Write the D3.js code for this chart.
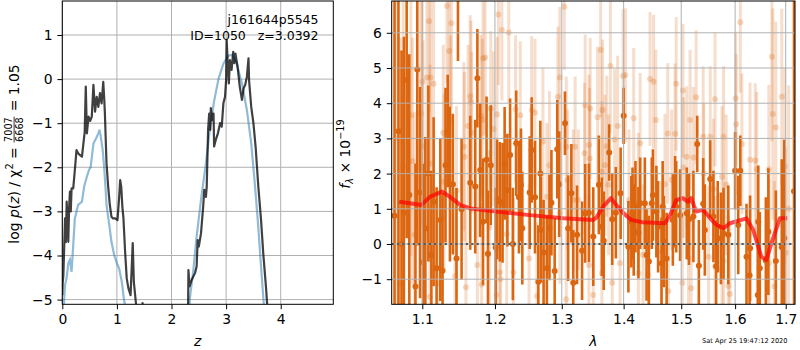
<!DOCTYPE html>
<html>
<head>
<meta charset="utf-8">
<script src="https://cdn.jsdelivr.net/npm/d3@7"></script>
<style>
  html, body { margin: 0; padding: 0; background: #fff; }
  svg { display: block; font-family: "DejaVu Sans", sans-serif; }
</style>
</head>
<body>
<svg id="fig" width="800" height="350"></svg>
<script>
// ---- redshift probability panel ----
const zBlack = [0.0, 0.007, 0.02, 0.03, 0.05, 0.065, 0.08, 0.095, 0.11, 0.125, 0.14, 0.155, 0.17, 0.2, 0.23, 0.26, 0.29, 0.32, 0.36, 0.40, 0.41, 0.43, 0.45, 0.48, 0.51, 0.54, 0.57, 0.60, 0.63, 0.66, 0.69, 0.72, 0.75, 0.77, 0.78, 0.81, 0.84, 0.87, 0.90, 0.93, 0.97, 1.01, 1.04, 1.06, 1.08, 1.10, 1.12, 1.15, 1.18, 1.21, 1.25, 1.29, 1.31, 1.35, 1.38, 1.42, 1.45, 1.47, 1.49, 1.55, 1.8, 2.1, 2.29,
  2.31, 2.33, 2.37, 2.43, 2.46, 2.48, 2.50, 2.54, 2.58, 2.60, 2.63, 2.645, 2.67, 2.69, 2.71, 2.72, 2.75, 2.77, 2.78, 2.81, 2.85, 2.89, 2.92, 2.95, 2.98, 3.00, 3.01, 3.03, 3.05, 3.07, 3.10, 3.13, 3.15, 3.17, 3.21, 3.25, 3.29, 3.32, 3.35, 3.38, 3.41, 3.42, 3.46, 3.50, 3.54, 3.59, 3.64, 3.68, 3.73, 3.75, 3.80, 4.2, 4.963];
const logpBlack = [-4.9, -4.63, -4.44, -4.0, -3.16, -3.7, -2.78, -3.2, -3.69, -2.9, -2.55, -3.0, -2.48, -2.48, -2.06, -1.61, -1.68, -1.72, -1.76, -1.31, -1.2, -0.17, -1.23, -0.85, -0.95, -0.85, -0.13, -0.74, -0.4, -0.63, -0.32, -0.55, -0.06, -0.5, -0.78, -1.91, -2.44, -2.85, -3.12, -3.16, -3.16, -3.2, -2.7, -2.29, -2.45, -2.9, -3.16, -3.91, -4.52, -4.74, -4.9, -3.72, -4.6, -5.1, -5.6, -6.5, -5.5, -5.08, -5.6, -7.0, -9.0, -9.0, -7.0,
  -4.33, -4.7, -4.55, -4.4, -4.25, -3.65, -3.8, -3.5, -2.89, -2.51, -2.67, -2.44, -1.15, -0.78, -1.15, -0.66, -0.93, -0.78, -1.53, -1.38, -1.23, -1.0, -1.08, -0.55, -0.4, -0.02, 0.89, 0.36, -0.1, 0.43, 0.21, 0.62, 0.36, 0.58, 0.28, -0.17, -0.47, -0.21, -0.13, 0.05, 0.47, -0.02, -0.63, -1.0, -1.53, -2.44, -3.2, -3.95, -4.71, -5.08, -6.5, -10.0, -12.0];

const zBlue = [0.0, 0.03, 0.05, 0.08, 0.11, 0.14, 0.17, 0.20, 0.23, 0.29, 0.36, 0.40, 0.45, 0.49, 0.52, 0.57, 0.62, 0.66, 0.68, 0.70, 0.74, 0.77, 0.79, 0.81, 0.86, 0.90, 0.95, 1.00, 1.04, 1.09, 1.13, 1.15, 1.2, 1.5,
  2.2, 2.34, 2.40, 2.46, 2.54, 2.63, 2.70, 2.78, 2.86, 2.95, 3.04, 3.11, 3.19, 3.29, 3.38, 3.46, 3.52, 3.58, 3.64, 3.68, 3.75, 4.0, 4.963];
const logpBlue = [-6.0, -5.1, -4.67, -4.5, -4.18, -4.1, -4.37, -3.76, -3.16, -2.85, -2.78, -2.44, -2.21, -2.06, -1.99, -1.46, -1.34, -1.23, -1.15, -1.27, -1.61, -2.06, -2.44, -2.85, -3.31, -3.69, -3.99, -4.18, -4.29, -4.6, -5.01, -5.12, -5.8, -8.0,
  -7.5, -4.93, -4.33, -3.57, -2.74, -1.91, -1.15, -0.5, 0.0, 0.35, 0.53, 0.55, 0.36, -0.1, -0.7, -1.46, -2.29, -3.2, -4.25, -4.93, -6.2, -9.5, -16.0];

const zTicks = [0, 1, 2, 3, 4];
const logpTicks = [-5, -4, -3, -2, -1, 0, 1];

// ---- spectrum panel ----
// well-weighted points
const lamDark = [1.064, 1.069, 1.073, 1.076, 1.0796, 1.083, 1.091, 1.0934, 1.097, 1.101, 1.104, 1.108, 1.112, 1.115, 1.119, 1.124, 1.127, 1.131, 1.134, 1.137, 1.141, 1.146, 1.148, 1.153, 1.165, 1.172, 1.175, 1.179, 1.183, 1.188, 1.190, 1.194, 1.201, 1.203, 1.207, 1.211, 1.214, 1.218, 1.222, 1.226, 1.231, 1.235, 1.238, 1.240, 1.251, 1.254, 1.259, 1.264, 1.267, 1.268, 1.272, 1.277, 1.281, 1.284, 1.289, 1.293, 1.296, 1.305, 1.310, 1.315, 1.318, 1.324, 1.332, 1.337, 1.343, 1.350, 1.359, 1.364, 1.367, 1.376, 1.381, 1.387, 1.395, 1.400, 1.408, 1.413, 1.415, 1.417, 1.420, 1.425, 1.428, 1.436, 1.439, 1.443, 1.448, 1.450, 1.456, 1.459, 1.465, 1.467, 1.469, 1.474, 1.485, 1.489, 1.491, 1.498, 1.510, 1.514, 1.522, 1.529, 1.532, 1.540, 1.543, 1.553, 1.559, 1.564, 1.567, 1.573, 1.578, 1.587, 1.600, 1.606, 1.610, 1.622, 1.628, 1.629, 1.644, 1.645, 1.648, 1.660, 1.665, 1.680, 1.692, 1.697, 1.717];
const fluxDark = [0.8, 3.2, 0.0, 0.89, 4.66, 1.39, -1.21, 4.96, 1.46, -0.52, 0.44, 2.0, -0.31, 1.2, -0.69, 0.68, -0.76, 2.24, 3.21, 1.7, 1.7, -0.41, 7.2, 0.99, 1.74, 1.63, 4.71, 2.1, 0.63, 2.39, -0.28, 2.24, -0.1, 1.27, 1.2, 1.17, 2.29, 1.53, 2.53, 0.0, 2.86, 1.33, 1.68, 0.45, 1.46, 2.67, 1.33, -1.07, 2.0, 0.4, -0.24, -0.69, 0.47, 1.17, -0.77, 2.69, 1.7, 3.43, 0.45, 1.44, -1.1, 0.26, -0.19, 0.87, 0.89, 0.21, 1.68, 0.49, 0.09, 2.6, 0.7, 0.89, 1.44, 3.64, -0.08, 0.63, 0.87, 0.4, 1.06, 0.32, 1.16, 1.16, -0.31, -0.5, 1.16, 1.39, 0.92, 0.49, -0.55, 1.06, 0.07, -0.41, 0.68, 1.2, 1.06, 0.82, 0.87, 0.7, 0.78, 2.84, -0.62, 1.14, 0.4, 1.85, 0.78, -0.63, 0.49, 0.16, 0.3, 0.26, 2.08, 0.54, 2.08, -0.36, -0.89, -0.12, -1.45, 0.63, -0.69, -0.47, 0.35, -0.48, -0.09, 0.16, 1.5];
const errDark = [8.0, 7.0, 5.5, 5.0, 4.5, 4.0, 3.5, 5.0, 3.0, 2.8, 2.6, 2.5, 2.4, 2.4, 2.3, 2.3, 2.2, 2.2, 1.6, 2.2, 2.0, 2.0, 2.0, 2.0, 1.9, 1.9, 1.4, 1.9, 1.8, 1.8, 1.8, 1.7, 1.7, 1.7, 1.7, 1.7, 1.6, 1.6, 1.6, 1.6, 1.5, 1.6, 1.6, 1.6, 1.6, 1.5, 1.6, 1.6, 1.5, 1.5, 1.5, 1.5, 1.5, 1.5, 1.5, 1.4, 1.5, 0.9, 1.5, 1.4, 1.5, 1.4, 1.4, 1.4, 1.4, 1.4, 1.4, 1.4, 1.4, 0.8, 1.3, 1.3, 1.3, 0.8, 1.3, 1.3, 1.3, 1.3, 1.3, 1.3, 1.3, 1.3, 1.3, 1.3, 1.3, 1.3, 1.3, 1.3, 1.3, 1.3, 1.3, 1.3, 1.3, 1.3, 1.3, 1.3, 1.3, 1.3, 1.3, 0.8, 1.3, 1.3, 1.3, 1.1, 1.3, 1.3, 1.3, 1.3, 1.3, 1.4, 1.1, 1.4, 1.0, 1.5, 1.5, 1.5, 1.6, 1.6, 1.6, 1.8, 1.8, 2.0, 2.5, 2.8, 12.0];

// down-weighted points
const lamLight = [1.066, 1.071, 1.075, 1.085, 1.087, 1.090, 1.098, 1.100, 1.101, 1.106, 1.109, 1.110, 1.110, 1.111, 1.115, 1.121, 1.128, 1.129, 1.133, 1.136, 1.138, 1.139, 1.144, 1.146, 1.156, 1.157, 1.159, 1.162, 1.165, 1.166, 1.167, 1.175, 1.180, 1.181, 1.182, 1.183, 1.186, 1.192, 1.194, 1.198, 1.202, 1.203, 1.205, 1.207, 1.208, 1.210, 1.217, 1.220, 1.227, 1.230, 1.237, 1.250, 1.254, 1.259, 1.262, 1.271, 1.277, 1.281, 1.294, 1.297, 1.297, 1.304, 1.307, 1.307, 1.309, 1.318, 1.321, 1.326, 1.336, 1.337, 1.343, 1.343, 1.344, 1.345, 1.350, 1.357, 1.362, 1.364, 1.364, 1.365, 1.369, 1.372, 1.375, 1.378, 1.381, 1.385, 1.390, 1.394, 1.399, 1.403, 1.409, 1.417, 1.425, 1.425, 1.428, 1.433, 1.442, 1.445, 1.451, 1.455, 1.465, 1.471, 1.476, 1.477, 1.483, 1.489, 1.491, 1.502, 1.503, 1.504, 1.510, 1.513, 1.516, 1.518, 1.522, 1.527, 1.540, 1.541, 1.550, 1.553, 1.559, 1.562, 1.562, 1.575, 1.575, 1.578, 1.578, 1.583, 1.587, 1.590, 1.601, 1.602, 1.610, 1.613, 1.629, 1.639, 1.642, 1.666, 1.666, 1.672, 1.674, 1.677, 1.680, 1.692, 1.698, 1.700, 1.706];
const fluxLight = [3.0, -1.14, 2.2, 3.66, 2.36, 0.26, 3.71, 4.61, 2.78, 4.73, 6.33, 2.29, -1.5, 4.73, 4.55, -1.12, 3.16, 1.77, 6.76, 5.48, 3.52, 6.27, -0.91, 1.51, 2.76, 2.48, -1.23, 3.35, 4.2, 4.04, 3.16, -0.6, 3.64, -1.15, 3.52, 5.27, 5.3, 0.47, 3.85, 3.27, -1.45, 3.68, 6.52, -0.81, -1.0, 6.08, 0.28, 6.01, -0.81, 3.83, 3.66, -0.41, 3.81, 3.73, -1.48, 2.91, 1.34, 2.24, 4.18, 4.73, 0.87, 6.74, 2.76, -1.57, 1.82, 1.25, 2.76, 1.25, 2.58, 3.95, 2.81, -0.6, 2.43, 3.85, -1.45, 3.6, 5.51, 2.05, -0.83, 3.81, 2.24, 2.78, 1.68, 5.06, -1.1, 2.97, 3.35, -0.55, 4.77, 4.8, 1.25, 3.57, 1.16, -0.83, 2.86, -0.31, -0.88, 4.69, 4.61, 3.52, -0.22, 1.7, 3.14, -1.34, 1.82, 3.13, 4.55, -1.1, 4.36, 2.17, 2.48, -0.39, 3.52, -1.26, 2.46, 4.17, 3.05, 2.0, -0.36, 3.05, 1.56, 4.11, -0.64, 1.91, -0.72, 3.05, -0.48, 1.68, -1.19, -1.42, 4.14, 3.4, 6.3, 2.84, 2.39, 2.37, 2.12, 2.12, -0.55, 5.32, 3.69, -1.21, 3.31, 4.18, 2.2, -0.25, 1.0];
const errLight = [8.0, 7.0, 6.0, 4.0, 3.5, 3.5, 3.2, 3.0, 3.0, 2.8, 2.6, 2.8, 2.6, 2.6, 2.6, 2.6, 2.5, 2.5, 2.2, 2.4, 2.4, 2.4, 2.4, 2.4, 2.4, 2.4, 2.3, 2.3, 2.3, 2.3, 2.3, 2.3, 2.3, 2.3, 2.3, 2.2, 2.2, 2.2, 2.2, 2.2, 2.2, 2.2, 2.0, 2.2, 2.2, 2.0, 2.2, 2.0, 2.1, 2.1, 2.1, 2.1, 2.1, 2.1, 2.1, 2.1, 2.1, 2.1, 2.0, 2.0, 2.0, 1.8, 2.0, 2.0, 2.0, 2.0, 2.0, 2.0, 2.0, 2.0, 2.0, 2.0, 2.0, 2.0, 2.0, 2.0, 1.9, 2.0, 2.0, 2.0, 2.0, 2.0, 2.0, 1.9, 2.0, 2.0, 2.0, 2.0, 1.9, 1.9, 2.0, 2.0, 2.0, 2.0, 2.0, 2.0, 2.0, 1.9, 1.9, 2.0, 2.0, 2.0, 2.0, 2.0, 2.0, 2.0, 1.9, 2.0, 1.9, 2.0, 2.0, 2.0, 2.0, 2.0, 2.0, 1.9, 2.0, 2.0, 2.0, 2.0, 2.0, 1.9, 2.0, 2.0, 2.0, 2.0, 2.0, 2.0, 2.0, 2.0, 1.9, 2.0, 2.0, 2.0, 2.2, 2.2, 2.2, 2.4, 2.4, 2.4, 3.0, 3.0, 3.0, 2.5, 2.8, 3.0, 3.5, 8.0];

// best-fit template
const lamModel = [1.070, 1.099, 1.110, 1.126, 1.137, 1.151, 1.165, 1.202, 1.251, 1.302, 1.350, 1.355, 1.366, 1.379, 1.390, 1.400, 1.413, 1.432, 1.471, 1.480, 1.491, 1.503, 1.512, 1.518, 1.527, 1.540, 1.553, 1.565, 1.578, 1.590, 1.622, 1.635, 1.651, 1.661, 1.670, 1.688, 1.703];
const fluxModel = [1.2, 1.11, 1.34, 1.49, 1.34, 1.11, 1.01, 0.92, 0.82, 0.73, 0.68, 0.75, 1.06, 1.3, 1.06, 0.87, 0.68, 0.62, 0.59, 0.82, 1.25, 1.3, 1.2, 1.3, 0.92, 0.97, 0.73, 0.54, 0.45, 0.59, 0.73, 0.4, -0.36, -0.45, -0.03, 0.73, 0.73];

const lamTicks = [1.1, 1.2, 1.3, 1.4, 1.5, 1.6, 1.7];
const fluxTicks = [-1, 0, 1, 2, 3, 4, 5, 6];

const objName = "j161644p5545";
const objInfo = "ID=1050   z=3.0392";
const stamp = "Sat Apr 25 19:47:12 2020";

// ---- layout ----
const svg = d3.select("#fig");
const FS = 13.9;
const gridColor = "#b0b0b0";
const orange = "#dc6610";

const L = { x0: 62.3, x1: 333.3, y0: 1, y1: 304.3 };
const R = { x0: 391.7, x1: 795, y0: 1, y1: 304.3 };

const xz = d3.scaleLinear().domain([0, 4.963]).range([L.x0, L.x1]);
const yp = d3.scaleLinear().domain([-5.107, 1.771]).range([L.y1, L.y0]);
const xl = d3.scaleLog().domain([1.0604, 1.719]).range([R.x0, R.x1]);
const yf = d3.scaleLinear().domain([-1.713, 6.903]).range([R.y1, R.y0]);

const defs = svg.append("defs");
defs.append("clipPath").attr("id", "clipL").append("rect")
  .attr("x", L.x0).attr("y", L.y0).attr("width", L.x1 - L.x0).attr("height", L.y1 - L.y0);
defs.append("clipPath").attr("id", "clipR").append("rect")
  .attr("x", R.x0).attr("y", R.y0).attr("width", R.x1 - R.x0).attr("height", R.y1 - R.y0);

function grid(box, xs, ys, xt, yt) {
  const g = svg.append("g").attr("stroke", gridColor).attr("stroke-width", 1);
  xt.forEach(v => g.append("line").attr("x1", xs(v)).attr("x2", xs(v)).attr("y1", box.y0).attr("y2", box.y1));
  yt.forEach(v => g.append("line").attr("x1", box.x0).attr("x2", box.x1).attr("y1", ys(v)).attr("y2", ys(v)));
}

function axes(box, xs, ys, xt, yt, xfmt) {
  const ax = svg.append("g").attr("transform", `translate(0,${box.y1})`)
    .call(d3.axisBottom(xs).tickValues(xt).tickFormat(xfmt).tickSizeInner(4.9).tickSizeOuter(0).tickPadding(4.9));
  const ay = svg.append("g").attr("transform", `translate(${box.x0},0)`)
    .call(d3.axisLeft(ys).tickValues(yt).tickFormat(d3.format("d")).tickSizeInner(4.9).tickSizeOuter(0).tickPadding(4.9));
  [ax, ay].forEach(a => {
    a.select(".domain").remove();
    a.selectAll("text").attr("font-size", FS).attr("font-family", "DejaVu Sans").attr("fill", "#000");
    a.selectAll("line").attr("stroke", "#000").attr("stroke-width", 1);
  });
  ax.selectAll("text").attr("dy", "0.71em");
  svg.append("rect").attr("x", box.x0).attr("y", box.y0)
    .attr("width", box.x1 - box.x0).attr("height", box.y1 - box.y0)
    .attr("fill", "none").attr("stroke", "#000").attr("stroke-width", 1);
}

// ---- left panel ----
grid(L, xz, yp, zTicks, logpTicks);
const gL = svg.append("g").attr("clip-path", "url(#clipL)");
const lineZ = d3.line().x(d => xz(d[0])).y(d => yp(d[1]));
gL.append("path").datum(d3.zip(zBlue, logpBlue)).attr("d", lineZ)
  .attr("fill", "none").attr("stroke", "#1f77b4").attr("stroke-opacity", 0.5).attr("stroke-width", 2.2);
gL.append("path").datum(d3.zip(zBlack, logpBlack)).attr("d", lineZ)
  .attr("fill", "none").attr("stroke", "#000").attr("stroke-opacity", 0.75).attr("stroke-width", 2.2)
  .attr("stroke-linejoin", "round");
axes(L, xz, yp, zTicks, logpTicks, d3.format("d"));

svg.append("text").attr("x", 318.5).attr("y", 24).attr("text-anchor", "end")
  .attr("font-size", 12.5).text(objName);
svg.append("text").attr("x", 318.5).attr("y", 39.5).attr("text-anchor", "end")
  .attr("font-size", 12.5).attr("xml:space", "preserve").style("white-space", "pre").text(objInfo);

svg.append("text").attr("x", xz(2.48)).attr("y", 345.5).attr("text-anchor", "middle")
  .attr("font-size", FS).attr("font-style", "italic").text("z");

// rotated y label with a stacked fraction
(function () {
  const g = svg.append("g");
  const inner = g.append("g");
  const t1 = inner.append("text").attr("font-size", FS).attr("x", 0).attr("y", 0).style("white-space", "pre");
  t1.append("tspan").text("log ");
  t1.append("tspan").attr("font-style", "italic").text("p");
  t1.append("tspan").text("(");
  t1.append("tspan").attr("font-style", "italic").text("z");
  t1.append("tspan").text(") / χ");
  t1.append("tspan").attr("font-size", FS * 0.7).attr("dy", -5.5).text("2");
  t1.append("tspan").attr("dy", 5.5).text(" = ");
  const w1 = t1.node().getComputedTextLength();
  const fs2 = FS * 0.7;
  const num = inner.append("text").attr("font-size", fs2).attr("x", w1 + 1).attr("y", -6.2).text("7007");
  const wn = num.node().getComputedTextLength();
  inner.append("text").attr("font-size", fs2).attr("x", w1 + 1).attr("y", 4.8).text("6668");
  inner.append("line").attr("x1", w1 + 0.5).attr("x2", w1 + wn + 1.5).attr("y1", -4.4).attr("y2", -4.4)
    .attr("stroke", "#000").attr("stroke-width", 0.8);
  const t3 = inner.append("text").attr("font-size", FS).attr("x", w1 + wn + 2.5).attr("y", 0)
    .style("white-space", "pre").text(" = 1.05");
  const total = w1 + wn + 2.5 + t3.node().getComputedTextLength();
  inner.attr("transform", `translate(${-total / 2},0)`);
  g.attr("transform", "translate(18.5,154) rotate(-90)");
})();

// ---- right panel ----
const gR = svg.append("g").attr("clip-path", "url(#clipR)");
const light = d3.zip(lamLight, fluxLight, errLight);
const dark = d3.zip(lamDark, fluxDark, errDark);

gR.append("g").selectAll("line").data(light).join("line")
  .attr("x1", d => xl(d[0])).attr("x2", d => xl(d[0]))
  .attr("y1", d => yf(d[1] - d[2])).attr("y2", d => yf(d[1] + d[2]))
  .attr("stroke", orange).attr("stroke-opacity", 0.22).attr("stroke-width", 3);
gR.append("g").selectAll("circle").data(light).join("circle")
  .attr("cx", d => xl(d[0])).attr("cy", d => yf(d[1])).attr("r", 3)
  .attr("fill", orange).attr("fill-opacity", 0.25);

grid(R, xl, yf, lamTicks, fluxTicks);

gR.append("g").selectAll("line").data(dark).join("line")
  .attr("x1", d => xl(d[0])).attr("x2", d => xl(d[0]))
  .attr("y1", d => yf(d[1] - d[2])).attr("y2", d => yf(d[1] + d[2]))
  .attr("stroke", orange).attr("stroke-width", 2.6);
gR.append("g").selectAll("circle").data(dark).join("circle")
  .attr("cx", d => xl(d[0])).attr("cy", d => yf(d[1])).attr("r", 3)
  .attr("fill", orange);

gR.append("path").datum(d3.zip(lamModel, fluxModel))
  .attr("d", d3.line().x(d => xl(d[0])).y(d => yf(d[1])))
  .attr("fill", "none").attr("stroke", "#ff0000").attr("stroke-opacity", 0.7)
  .attr("stroke-width", 4).attr("stroke-linejoin", "round");

gR.append("line").attr("x1", R.x0).attr("x2", R.x1).attr("y1", yf(0)).attr("y2", yf(0))
  .attr("stroke", "#000").attr("stroke-width", 2.2).attr("stroke-dasharray", "2.2,3.1");

axes(R, xl, yf, lamTicks, fluxTicks, d3.format(".1f"));

svg.append("text").attr("x", (R.x0 + R.x1) / 2).attr("y", 345.5).attr("text-anchor", "middle")
  .attr("font-size", FS).attr("font-style", "italic").text("λ");

(function () {
  const t = svg.append("text").attr("font-size", FS).attr("text-anchor", "middle")
    .attr("transform", "translate(350,154) rotate(-90)").style("white-space", "pre");
  t.append("tspan").attr("font-style", "italic").text("f");
  t.append("tspan").attr("font-size", FS * 0.7).attr("font-style", "italic").attr("dy", 3).text("λ");
  t.append("tspan").attr("dy", -3).text(" × 10");
  t.append("tspan").attr("font-size", FS * 0.7).attr("dy", -6).text("−19");
})();

svg.append("text").attr("x", 787.5).attr("y", 342.5).attr("text-anchor", "end")
  .attr("font-size", 6.6).text(stamp);
</script>
</body>
</html>
